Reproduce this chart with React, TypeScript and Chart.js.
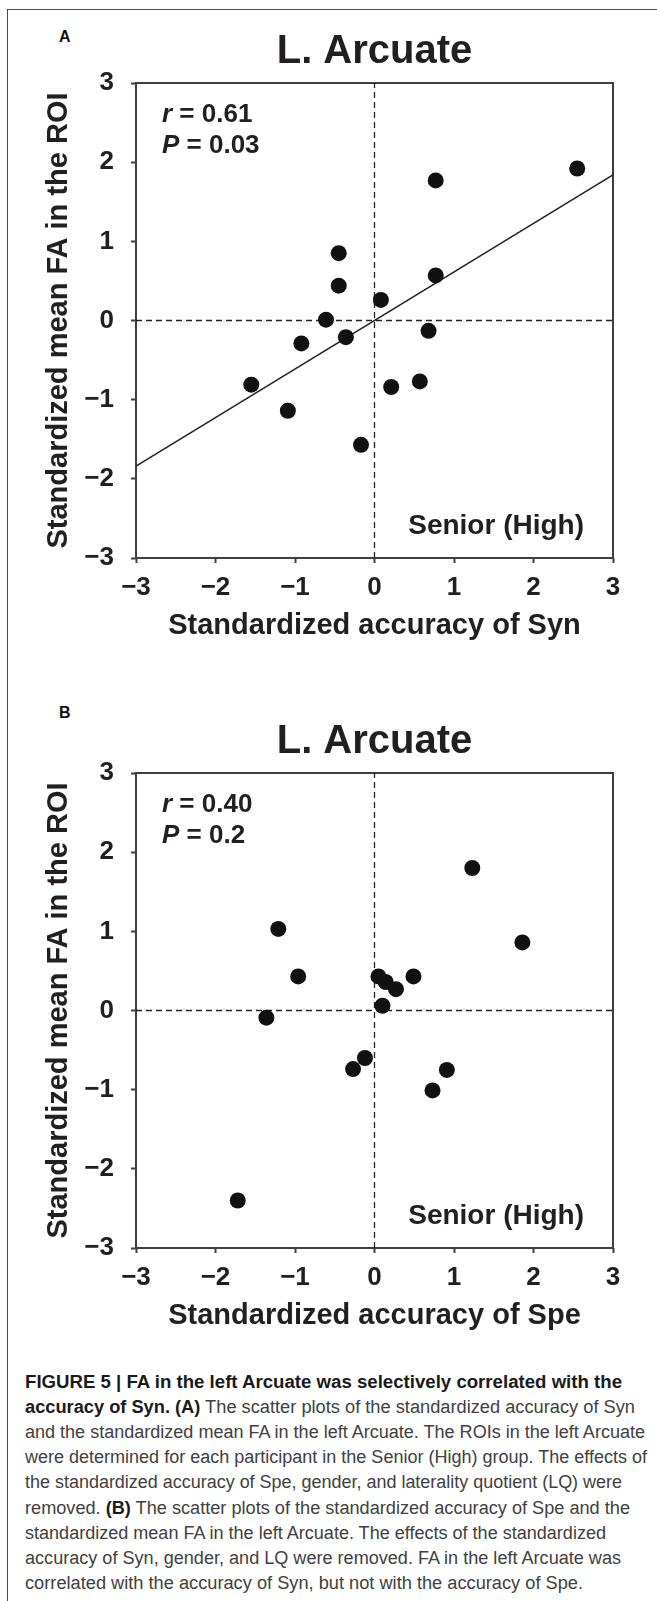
import React, { useEffect, useRef } from 'react';
import { Chart, registerables } from 'chart.js';

Chart.register(...registerables);

// ---------- data ----------
const panelTitle = 'L. Arcuate';
const yAxisTitle = 'Standardized mean FA in the ROI';
const groupLabel = 'Senior (High)';
const tickValues = [-3, -2, -1, 0, 1, 2, 3];

const synAxisTitle = 'Standardized accuracy of Syn';
const synX = [2.55, 0.77, -0.45, -0.45, 0.77, 0.08, -0.61, 0.68, -0.36, -0.92, -1.55, 0.21, 0.57, -1.09, -0.17];
const synY = [1.92, 1.77, 0.85, 0.44, 0.57, 0.26, 0.01, -0.13, -0.21, -0.29, -0.81, -0.84, -0.77, -1.14, -1.57];
const synFitX = [-3, 3];
const synFitY = [-1.84, 1.84];
const synR = '0.61';
const synP = '0.03';

const speAxisTitle = 'Standardized accuracy of Spe';
const speX = [1.23, -1.21, 1.86, -0.96, 0.05, 0.14, 0.27, 0.49, 0.10, -1.36, -0.12, -0.27, 0.91, 0.73, -1.72];
const speY = [1.80, 1.03, 0.86, 0.43, 0.43, 0.36, 0.27, 0.43, 0.06, -0.09, -0.60, -0.74, -0.75, -1.01, -2.40];
const speR = '0.40';
const speP = '0.2';

const zeroSpan = [-3, 3];

const captionLines: [string, boolean][][] = [
  [['FIGURE 5 | FA in the left Arcuate was selectively correlated with the', true]],
  [['accuracy of Syn. (A)', true], [' The scatter plots of the standardized accuracy of Syn', false]],
  [['and the standardized mean FA in the left Arcuate. The ROIs in the left Arcuate', false]],
  [['were determined for each participant in the Senior (High) group. The effects of', false]],
  [['the standardized accuracy of Spe, gender, and laterality quotient (LQ) were', false]],
  [['removed. ', false], ['(B)', true], [' The scatter plots of the standardized accuracy of Spe and the', false]],
  [['standardized mean FA in the left Arcuate. The effects of the standardized', false]],
  [['accuracy of Syn, gender, and LQ were removed. FA in the left Arcuate was', false]],
  [['correlated with the accuracy of Syn, but not with the accuracy of Spe.', false]],
];
const captionLineEnds = [622, 635, 645, 647, 622, 630, 606, 621, 583];

// ---------- styling / geometry ----------
const FONT = '"Liberation Sans", Arial, Helvetica, sans-serif';
const INK = '#231f20';
const AXIS = '#3f3f3f';
const CANVAS_W = 657;
const CANVAS_H = 660;
const PLOT_LEFT = 136;
const PLOT_RIGHT = 613;
const PLOT_TOP = 83;
const PLOT_BOTTOM = 558;

const fmtTick = (v: number | string) => {
  const n = Math.round(Number(v));
  return n < 0 ? '\u2212' + Math.abs(n) : String(n);
};

const overlayPlugin = {
  id: 'overlay',
  beforeDatasetsDraw(chart: any) {
    const { ctx, chartArea: a } = chart;
    ctx.save();
    ctx.strokeStyle = AXIS;
    ctx.lineWidth = 2;
    ctx.strokeRect(a.left, a.top, a.right - a.left, a.bottom - a.top);
    ctx.restore();
  },
  afterDraw(chart: any, _args: any, opts: any) {
    const { ctx, chartArea: a } = chart;
    ctx.save();
    ctx.fillStyle = INK;
    ctx.textBaseline = 'alphabetic';
    // panel title
    ctx.font = `bold 40px ${FONT}`;
    ctx.textAlign = 'center';
    ctx.fillText(panelTitle, (a.left + a.right) / 2, 63);
    // stats
    ctx.textAlign = 'left';
    const drawStat = (sym: string, val: string, y: number) => {
      const x0 = a.left + 26;
      ctx.font = `italic bold 26px ${FONT}`;
      ctx.fillText(sym, x0, y);
      const w = ctx.measureText(sym).width;
      ctx.font = `bold 26px ${FONT}`;
      ctx.fillText(' = ' + val, x0 + w, y);
    };
    drawStat('r', opts.r, a.top + 39);
    drawStat('P', opts.p, a.top + 70);
    // group label
    ctx.font = `bold 28px ${FONT}`;
    ctx.textAlign = 'right';
    ctx.fillText(groupLabel, a.right - 29, a.bottom - 24);
    ctx.restore();
  },
};

type PanelProps = {
  top: number;
  xs: number[];
  ys: number[];
  xTitle: string;
  r: string;
  p: string;
  fitX?: number[];
  fitY?: number[];
};

function ScatterPanel({ top, xs, ys, xTitle, r, p, fitX, fitY }: PanelProps) {
  const ref = useRef<HTMLCanvasElement | null>(null);
  useEffect(() => {
    if (!ref.current) return;
    const lineStyle = { pointRadius: 0, showLine: true, fill: false, borderColor: '#222', backgroundColor: '#222' };
    const datasets: any[] = [
      {
        data: xs.map((x, i) => ({ x, y: ys[i] })),
        pointRadius: 8,
        pointHoverRadius: 8,
        pointBackgroundColor: '#111',
        pointBorderColor: '#111',
        pointBorderWidth: 0,
        showLine: false,
      },
    ];
    if (fitX && fitY) {
      datasets.push({ ...lineStyle, data: fitX.map((x, i) => ({ x, y: fitY[i] })), borderWidth: 1.6 });
    }
    datasets.push({ ...lineStyle, data: zeroSpan.map((x) => ({ x, y: 0 })), borderWidth: 1.3, borderDash: [6, 4] });
    datasets.push({ ...lineStyle, data: zeroSpan.map((y) => ({ x: 0, y })), borderWidth: 1.3, borderDash: [6, 4] });

    const tickFont = { family: FONT, size: 26, weight: 'bold' as const };
    const titleFont = { family: FONT, size: 29, weight: 'bold' as const };
    const setTicks = (s: any) => {
      s.ticks = tickValues.map((v) => ({ value: v }));
    };

    const chart = new Chart(ref.current, {
      type: 'scatter',
      data: { datasets },
      plugins: [overlayPlugin as any],
      options: {
        animation: false,
        responsive: false,
        events: [],
        layout: { padding: { left: 0, top: PLOT_TOP, right: CANVAS_W - PLOT_RIGHT, bottom: 0 } },
        plugins: {
          legend: { display: false },
          tooltip: { enabled: false },
          overlay: { r, p },
        } as any,
        scales: {
          x: {
            type: 'linear',
            min: -3,
            max: 3,
            afterBuildTicks: setTicks,
            afterFit: (s: any) => {
              s.height = CANVAS_H - PLOT_BOTTOM;
            },
            ticks: { font: tickFont, color: INK, padding: 9, callback: fmtTick, maxRotation: 0, autoSkip: false },
            grid: { display: true, drawOnChartArea: false, drawTicks: true, tickLength: 5, tickColor: AXIS, tickWidth: 2 },
            border: { display: false },
            title: { display: true, text: xTitle, font: titleFont, color: INK, padding: { top: 0, bottom: 17 } },
          },
          y: {
            type: 'linear',
            min: -3,
            max: 3,
            afterBuildTicks: setTicks,
            afterFit: (s: any) => {
              s.width = PLOT_LEFT;
            },
            ticks: { font: tickFont, color: INK, padding: 17, callback: fmtTick, autoSkip: false },
            grid: { display: true, drawOnChartArea: false, drawTicks: true, tickLength: 5, tickColor: AXIS, tickWidth: 2 },
            border: { display: false },
            title: { display: true, text: yAxisTitle, font: titleFont, color: INK, padding: { top: 42, bottom: 0 } },
          },
        },
      } as any,
    });
    return () => chart.destroy();
  }, [xs, ys, xTitle, r, p, fitX, fitY]);

  return (
    <canvas
      ref={ref}
      width={CANVAS_W}
      height={CANVAS_H}
      style={{ position: 'absolute', left: 0, top, width: CANVAS_W, height: CANVAS_H }}
    />
  );
}

function PanelLetter({ letter, top }: { letter: string; top: number }) {
  return (
    <div
      style={{
        position: 'absolute',
        left: 59,
        top,
        fontFamily: FONT,
        fontWeight: 'bold',
        fontSize: 16,
        lineHeight: '16px',
        color: '#111',
      }}
    >
      {letter}
    </div>
  );
}

export default function App() {
  const capTop = 1360;
  return (
    <div
      style={{
        position: 'absolute',
        left: 0,
        top: 0,
        width: 657,
        height: 1601,
        overflow: 'hidden',
        background: '#fff',
      }}
    >
      <div
        style={{
          position: 'absolute',
          left: 7,
          top: 9,
          width: 760,
          height: 1700,
          borderLeft: '1px solid #4a4a4a',
          borderTop: '1px solid #4a4a4a',
        }}
      />
      <PanelLetter letter="A" top={29} />
      <PanelLetter letter="B" top={705} />
      <ScatterPanel top={0} xs={synX} ys={synY} xTitle={synAxisTitle} r={synR} p={synP} fitX={synFitX} fitY={synFitY} />
      <ScatterPanel top={690} xs={speX} ys={speY} xTitle={speAxisTitle} r={speR} p={speP} />
      <svg
        width={657}
        height={1601 - capTop}
        style={{ position: 'absolute', left: 0, top: capTop }}
      >
        {captionLines.map((segs, i) => (
          <text
            key={i}
            x={25}
            y={1388 - capTop + i * 25.1}
            textLength={captionLineEnds[i] - 25}
            lengthAdjust="spacingAndGlyphs"
            fontFamily={FONT}
            fontSize={18}
            style={{ whiteSpace: 'pre' }}
          >
            {segs.map(([t, b], j) => (
              <tspan key={j} fontWeight={b ? 'bold' : 'normal'} fill={b ? '#1a1a1a' : '#404040'}>
                {t}
              </tspan>
            ))}
          </text>
        ))}
      </svg>
    </div>
  );
}
